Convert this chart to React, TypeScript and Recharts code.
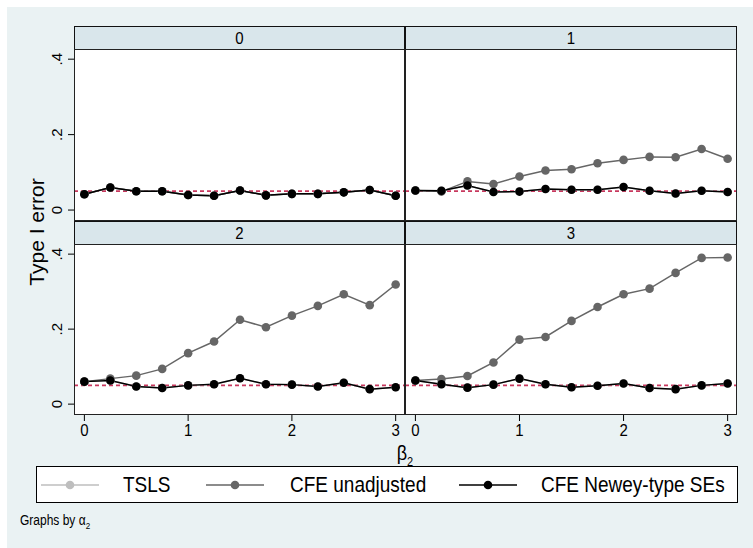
import { CartesianGrid, Line, LineChart, ReferenceLine, XAxis, YAxis } from "recharts";

const betas = [0, 0.25, 0.5, 0.75, 1, 1.25, 1.5, 1.75, 2, 2.25, 2.5, 2.75, 3];
const xTicks = [0, 1, 2, 3];
const yTicks = [0, 0.2, 0.4];
const yTickLabels = ["0", ".2", ".4"];
const nominal = 0.05;

// alpha_2 = 0
const tsls0 = [0.042, 0.06, 0.05, 0.05, 0.04, 0.038, 0.052, 0.039, 0.043, 0.043, 0.047, 0.053, 0.038];
const cfe0 = [0.042, 0.06, 0.05, 0.05, 0.04, 0.038, 0.052, 0.039, 0.043, 0.043, 0.047, 0.053, 0.038];
const newey0 = [0.042, 0.06, 0.05, 0.05, 0.04, 0.038, 0.052, 0.039, 0.043, 0.043, 0.047, 0.053, 0.038];
// alpha_2 = 1
const tsls1 = [0.052, 0.051, 0.065, 0.048, 0.049, 0.056, 0.054, 0.054, 0.061, 0.051, 0.044, 0.051, 0.048];
const cfe1 = [0.052, 0.049, 0.076, 0.069, 0.089, 0.105, 0.108, 0.124, 0.133, 0.141, 0.14, 0.162, 0.136];
const newey1 = [0.052, 0.051, 0.065, 0.048, 0.049, 0.056, 0.054, 0.054, 0.061, 0.051, 0.044, 0.051, 0.048];
// alpha_2 = 2
const tsls2 = [0.06, 0.063, 0.047, 0.043, 0.05, 0.053, 0.069, 0.053, 0.052, 0.047, 0.057, 0.04, 0.045];
const cfe2 = [0.06, 0.068, 0.076, 0.094, 0.136, 0.167, 0.225, 0.205, 0.236, 0.262, 0.293, 0.264, 0.319];
const newey2 = [0.06, 0.063, 0.047, 0.043, 0.05, 0.053, 0.069, 0.053, 0.052, 0.047, 0.057, 0.04, 0.045];
// alpha_2 = 3
const tsls3 = [0.063, 0.053, 0.044, 0.052, 0.068, 0.053, 0.045, 0.049, 0.055, 0.043, 0.04, 0.05, 0.055];
const cfe3 = [0.063, 0.067, 0.075, 0.111, 0.172, 0.179, 0.222, 0.259, 0.293, 0.308, 0.35, 0.39, 0.391];
const newey3 = [0.063, 0.053, 0.044, 0.052, 0.068, 0.053, 0.045, 0.049, 0.055, 0.043, 0.04, 0.05, 0.055];

const panelLabels = ["0", "1", "2", "3"];
const seriesNames = ["TSLS", "CFE unadjusted", "CFE Newey-type SEs"];
const seriesColors = ["#BEBEBE", "#666666", "#000000"];

const FONT = "Arial, 'Liberation Sans', sans-serif";
const BG = "#EAF2F3";
const STRIP = "#D9E6EB";
const YW = 40;
const XH = 32;
const TALL = 1.15; // stata text is a bit taller/narrower than Arial

function rows(tsls: number[], cfe: number[], newey: number[]) {
  return betas.map((b, i) => ({ b, tsls: tsls[i], cfe: cfe[i], newey: newey[i] }));
}

const panels = [
  { label: panelLabels[0], data: rows(tsls0, cfe0, newey0), left: 74, top: 49, w: 331, h: 172, showY: true, showX: false },
  { label: panelLabels[1], data: rows(tsls1, cfe1, newey1), left: 405, top: 49, w: 332, h: 172, showY: false, showX: false },
  { label: panelLabels[2], data: rows(tsls2, cfe2, newey2), left: 74, top: 244, w: 331, h: 171, showY: true, showX: true },
  { label: panelLabels[3], data: rows(tsls3, cfe3, newey3), left: 405, top: 244, w: 332, h: 171, showY: false, showX: true }
];

function YTick(props: any) {
  const { x, y, payload } = props;
  const i = yTicks.indexOf(payload.value);
  return (
    <text
      x={x - 4}
      y={y}
      transform={`rotate(-90 ${x - 4} ${y})`}
      textAnchor="middle"
      fontSize={15}
      fontFamily={FONT}
      fill="#000"
    >
      {yTickLabels[i]}
    </text>
  );
}

function XTick(props: any) {
  const { x, y, payload } = props;
  return (
    <text
      x={x}
      y={y}
      dy="0.71em"
      transform={`translate(${x} ${y}) scale(1 ${TALL}) translate(${-x} ${-y})`}
      textAnchor="middle"
      fontSize={15}
      fontFamily={FONT}
      fill="#000"
    >
      {payload.value}
    </text>
  );
}

const tall = { display: "inline-block", transform: `scaleY(${TALL})` };

function Panel({ p }: { p: (typeof panels)[number] }) {
  const width = (p.showY ? YW : 0) + p.w;
  const height = p.h + (p.showX ? XH : 0);
  const keys = ["tsls", "cfe", "newey"];
  return (
    <>
      <div
        style={{
          position: "absolute",
          left: p.left,
          top: p.top - 23,
          width: p.w,
          height: 23,
          boxSizing: "border-box",
          background: STRIP,
          border: "1px solid #111",
          borderBottom: "none",
          textAlign: "center",
          fontSize: 15,
          lineHeight: "22px",
          fontFamily: FONT
        }}
      >
        <span style={tall}>{p.label}</span>
      </div>
      <div style={{ position: "absolute", left: p.left - (p.showY ? YW : 0), top: p.top }}>
        <LineChart width={width} height={height} data={p.data} margin={{ top: 0, right: 0, bottom: 0, left: 0 }}>
          <rect x={p.showY ? YW : 0} y={0} width={p.w} height={p.h} fill="#fff" />
          <CartesianGrid vertical={false} stroke={BG} strokeWidth={1.5} />
          <XAxis
            dataKey="b"
            type="number"
            domain={[-0.1, 3.09]}
            ticks={xTicks}
            allowDataOverflow
            hide={!p.showX}
            height={XH}
            tickSize={6}
            tickMargin={3}
            tick={<XTick />}
            axisLine={false}
            tickLine={{ stroke: "#000" }}
          />
          <YAxis
            type="number"
            domain={[-0.029, 0.427]}
            ticks={yTicks}
            allowDataOverflow
            hide={!p.showY}
            width={YW}
            tickSize={6}
            tickMargin={2}
            tick={<YTick />}
            axisLine={false}
            tickLine={{ stroke: "#000" }}
          />
          <ReferenceLine y={nominal} stroke="#C8385E" strokeDasharray="4 3" strokeWidth={1.7} />
          {keys.map((k, i) => (
            <Line
              key={k}
              dataKey={k}
              name={seriesNames[i]}
              stroke={seriesColors[i]}
              strokeWidth={1.5}
              dot={{ r: 4.3, fill: seriesColors[i], stroke: seriesColors[i], strokeWidth: 0 }}
              isAnimationActive={false}
            />
          ))}
        </LineChart>
      </div>
      <div
        style={{
          position: "absolute",
          left: p.left,
          top: p.top,
          width: p.w,
          height: p.h,
          boxSizing: "border-box",
          border: "1px solid #222",
          pointerEvents: "none"
        }}
      />
    </>
  );
}

const legendItems = [
  { lineX: 40, textX: 122 },
  { lineX: 205, textX: 289 },
  { lineX: 458, textX: 540 }
];

function Legend() {
  return (
    <div
      style={{
        position: "absolute",
        left: 36,
        top: 466,
        width: 702,
        height: 37,
        boxSizing: "border-box",
        background: "#fff",
        border: "1px solid #000"
      }}
    >
      {seriesNames.map((name, i) => (
        <div key={name}>
          <svg style={{ position: "absolute", left: legendItems[i].lineX - 36, top: 8 }} width={60} height={20}>
            <line x1={0} y1={10} x2={58} y2={10} stroke={seriesColors[i]} strokeWidth={1.5} />
            <circle cx={29} cy={10} r={4.3} fill={seriesColors[i]} />
          </svg>
          <div
            style={{
              position: "absolute",
              left: legendItems[i].textX - 36,
              top: 7,
              fontSize: 19,
              lineHeight: "22px",
              fontFamily: FONT,
              whiteSpace: "nowrap"
            }}
          >
            <span style={tall}>{name}</span>
          </div>
        </div>
      ))}
    </div>
  );
}

export default function App() {
  return (
    <div style={{ position: "absolute", left: 0, top: 0, width: 753, height: 548, background: "#fff", overflow: "hidden" }}>
      <div style={{ position: "absolute", left: 7, top: 7, width: 746, height: 541, background: BG }} />
      {panels.map((p) => (
        <Panel key={p.label} p={p} />
      ))}
      <div
        style={{
          position: "absolute",
          left: 37,
          top: 232,
          transform: "translate(-50%, -50%) rotate(-90deg)",
          fontSize: 21,
          fontFamily: FONT,
          whiteSpace: "nowrap"
        }}
      >
        Type I error
      </div>
      <div
        style={{
          position: "absolute",
          left: 405,
          top: 455,
          transform: `translate(-50%, -50%) scaleY(${TALL})`,
          fontSize: 18,
          fontFamily: FONT,
          whiteSpace: "nowrap"
        }}
      >
        β<sub style={{ fontSize: 11 }}>2</sub>
      </div>
      <Legend />
      <div style={{ position: "absolute", left: 20, top: 514, fontSize: 12, fontFamily: FONT, whiteSpace: "nowrap" }}>
        <span style={tall}>
          Graphs by α<sub style={{ fontSize: 8 }}>2</sub>
        </span>
      </div>
    </div>
  );
}
